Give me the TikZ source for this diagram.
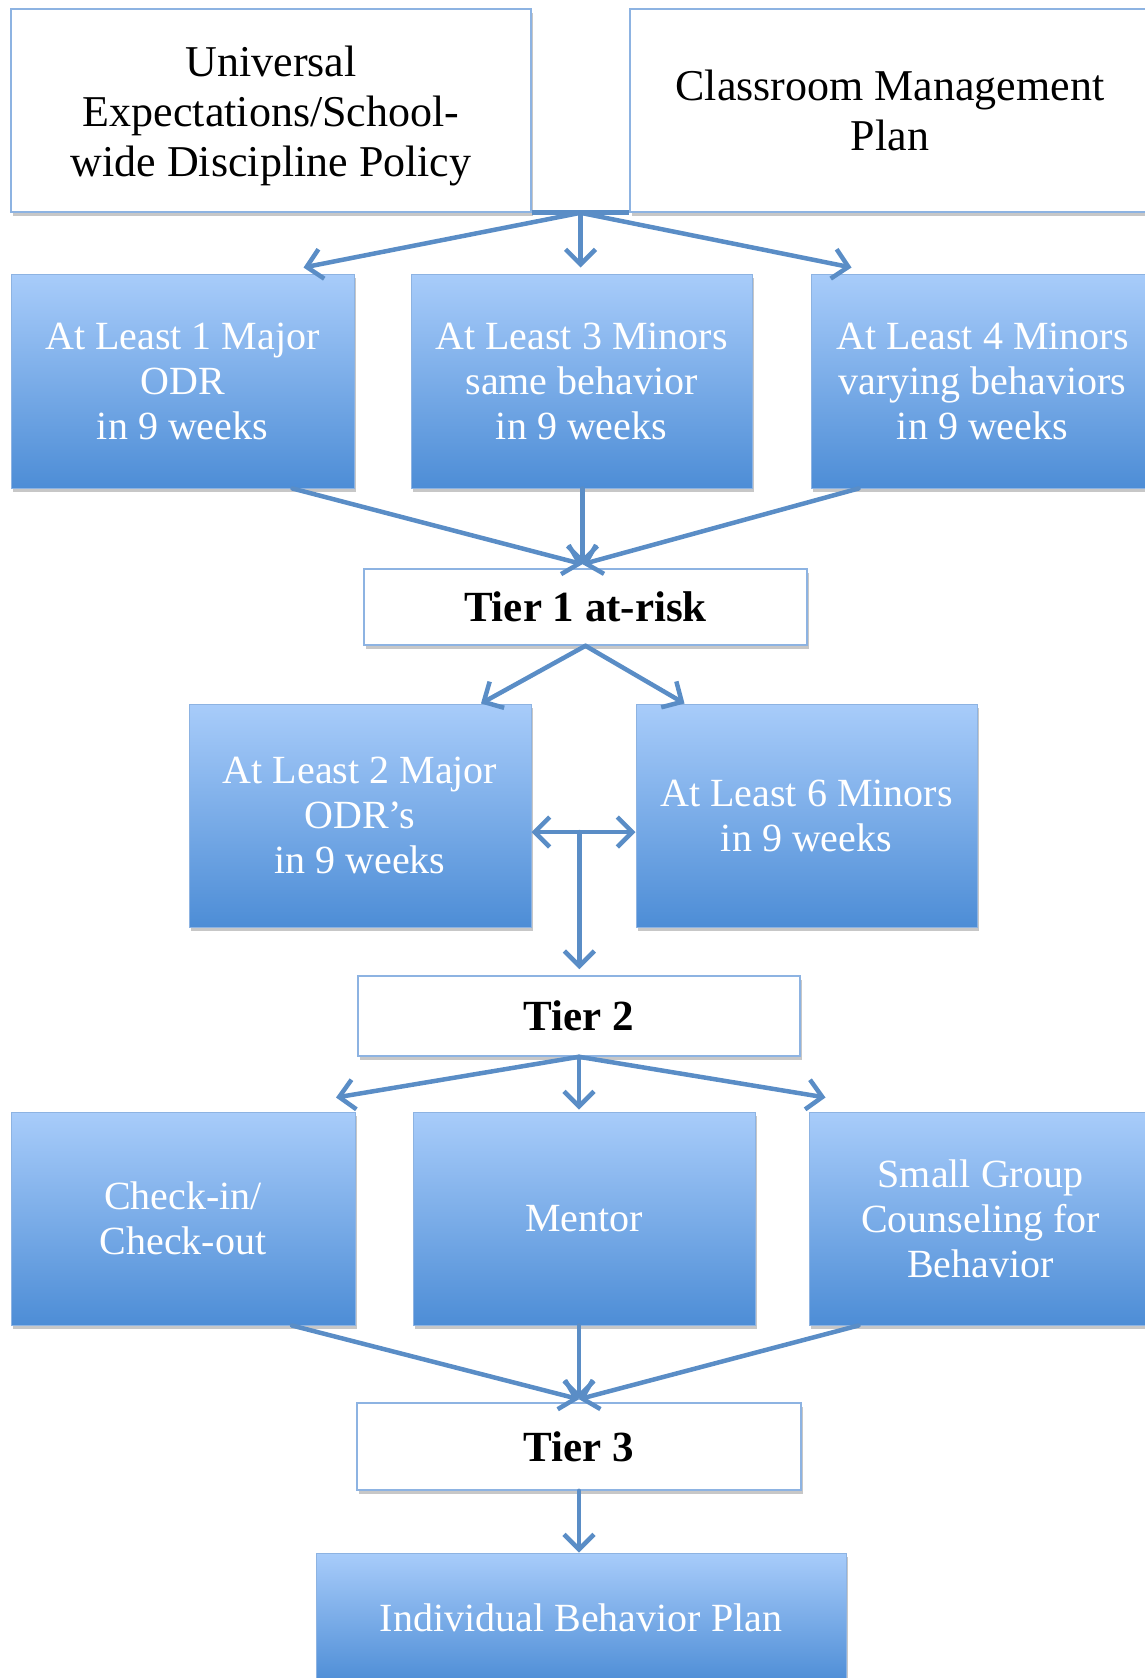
\documentclass[tikz,border=0pt]{standalone}
\usepackage{fontspec}
\setmainfont{Liberation Serif}
\usetikzlibrary{arrows.meta,calc,shadows}

\definecolor{linkblue}{HTML}{5A8DC6}
\definecolor{edgeblue}{HTML}{8DB3E2}
\definecolor{topblue}{HTML}{A8CCFA}
\definecolor{botblue}{HTML}{4D8DD6}

\tikzset{
  softshadow/.style={drop shadow={shadow xshift=2pt, shadow yshift=-4pt, opacity=0.22, fill=black}},
  plainbox/.style={draw=edgeblue, line width=1.6pt, fill=white, inner sep=0pt,
    align=center, font=\fontsize{44}{50}\selectfont, softshadow},
  tierbox/.style={plainbox, font=\fontsize{43}{50}\selectfont\bfseries},
  bluebox/.style={draw=edgeblue, line width=1pt, top color=topblue, bottom color=botblue,
    text=white, inner sep=0pt, align=center, font=\fontsize{40}{45}\selectfont, softshadow},
  link/.style={draw=linkblue, line width=4.5pt, line cap=round,
    -{Straight Barb[length=15pt,width=30pt]}},
  twoway/.style={draw=linkblue, line width=4.5pt,
    {Straight Barb[length=15pt,width=30pt]}-{Straight Barb[length=15pt,width=30pt]}},
}

\begin{document}
\begin{tikzpicture}[x=1pt,y=-1pt]
\useasboundingbox (0,0) rectangle (1145,1678);
\clip (0,0) rectangle (1145,1678);

% policy level
\node[plainbox, minimum width=520pt, minimum height=203pt] (uni) at (271,110.5) {};
\node[font=\fontsize{44}{50}\selectfont, align=center] (unitext) at ($(uni.center)+(0,5)$)
  {Universal\\Expectations/School-\\wide Discipline Policy};
\node[plainbox, minimum width=520pt, minimum height=203pt] (cmp) at (890,110.5)
  {Classroom Management\\Plan};

% referral criteria
\node[bluebox, minimum width=343pt, minimum height=214pt] (r2a) at (182.5,381)
  {At Least 1 Major\\ODR\\in 9 weeks};
\node[bluebox, minimum width=341pt, minimum height=214pt] (r2b) at (581.5,381)
  {At Least 3 Minors\\same behavior\\in 9 weeks};
\node[bluebox, minimum width=343pt, minimum height=214pt] (r2c) at (982.5,381)
  {At Least 4 Minors\\varying behaviors\\in 9 weeks};

\node[tierbox, minimum width=443pt, minimum height=76pt] (t1) at (585.5,607) {Tier 1 at-risk};

\node[bluebox, minimum width=342pt, minimum height=223pt] (r3a) at (360,815.5)
  {At Least 2 Major\\ODR’s\\in 9 weeks};
\node[bluebox, minimum width=341pt, minimum height=223pt] (r3b) at (806.5,815.5)
  {At Least 6 Minors\\in 9 weeks};

\node[tierbox, minimum width=442pt, minimum height=80pt] (t2) at (579,1016) {Tier 2};

% interventions
\node[bluebox, minimum width=344pt, minimum height=213pt] (r4a) at (183,1218.5)
  {Check-in/\\Check-out};
\node[bluebox, minimum width=342pt, minimum height=213pt] (r4b) at (584,1218.5) {Mentor};
\node[bluebox, minimum width=343pt, minimum height=213pt] (r4c) at (980.5,1218.5)
  {Small Group\\Counseling for\\Behavior};

\node[tierbox, minimum width=444pt, minimum height=87pt] (t3) at (579,1446.5) {Tier 3};

\node[bluebox, minimum width=530pt, minimum height=130pt] (ibp) at (581,1618)
  {Individual Behavior Plan};

% connectors
\draw[draw=linkblue, line width=5pt] (uni.south east) -- (cmp.south west);
\coordinate (hub) at ($(uni.south east)!0.5!(cmp.south west)$);
\draw[link] (hub) -- ($(r2a.north)+(121,-6)$);
\draw[link] (hub) -- (hub |- {$(r2b.north)+(0,-6)$});
\draw[link] (hub) -- ($(r2c.north)+(-131,-6)$);

\coordinate (in1) at ($(t1.north)+(-3,-4)$);
\draw[link] ($(r2a.south)+(110,0)$) -- (in1);
\draw[link] ($(r2c.south)+(-124,0)$) -- (in1);
\draw[link] (in1 |- r2b.south) -- (in1);

\draw[link] (t1.south) -- ($(r3a.north)+(121,0)$);
\draw[link] (t1.south) -- ($(r3b.north)+(-122,0)$);

\draw[twoway] ($(r3a.east)+(0,16.5)$) -- ($(r3b.west)+(0,16.5)$);
\coordinate (split) at ($($(r3a.east)!0.46!(r3b.west)$)+(0,16.5)$);
\draw[link] (split) -- ($(split |- t2.north)+(0,-6)$);

\draw[link] (t2.south) -- ($(r4a.north)+(153,-14)$);
\draw[link] (t2.south) -- ($(t2.south |- r4b.north)+(0,-2)$);
\draw[link] (t2.south) -- ($(r4c.north)+(-155,-14)$);

\coordinate (in3) at ($(t3.north)+(0,-3)$);
\draw[link] ($(r4a.south)+(109,0)$) -- (in3);
\draw[link] ($(r4c.south)+(-122,0)$) -- (in3);
\draw[link] (in3 |- r4b.south) -- (in3);

\draw[link] (t3.south) -- (t3.south |- ibp.north);
\end{tikzpicture}
\end{document}
